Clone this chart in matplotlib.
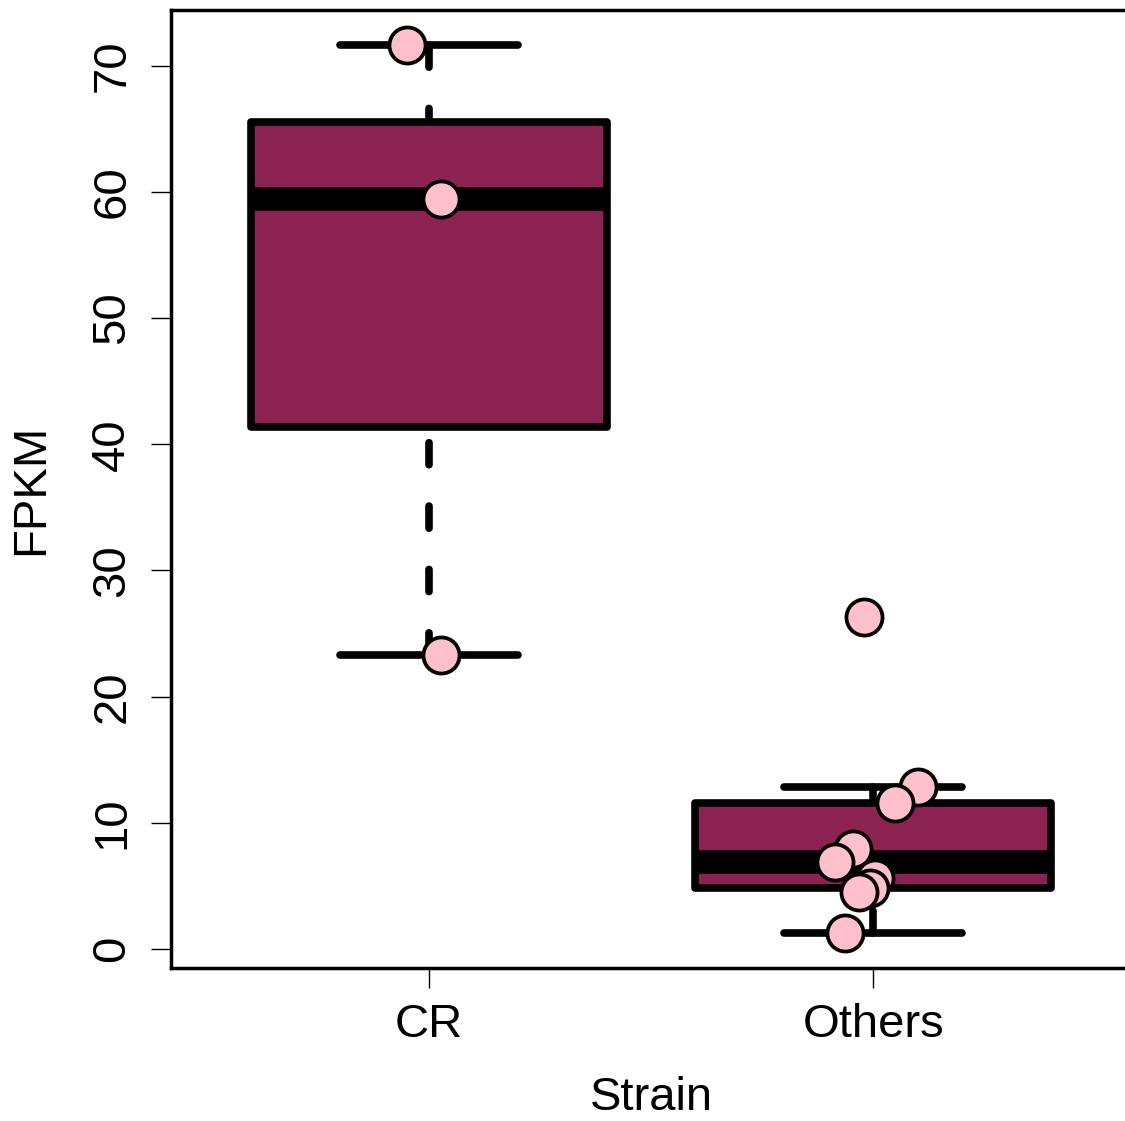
import matplotlib
matplotlib.use("Agg")
import matplotlib.pyplot as plt
import numpy as np

plt.rcParams["font.family"] = ["Liberation Sans", "DejaVu Sans"]

# data
groups = ["CR", "Others"]
cr_values = [71.6, 59.4, 23.3]
cr_jitter = [-0.05, 0.027, 0.027]
others_values = [26.3, 12.8, 11.6, 7.9, 6.9, 5.6, 4.85, 4.5, 1.3]
others_jitter = [-0.02, 0.10, 0.05, -0.045, -0.086, 0.005, -0.007, -0.032, -0.063]
yticks = [0, 10, 20, 30, 40, 50, 60, 70]

box_color = "#8B2252"
point_color = "#FFC0CB"

fig = plt.figure(figsize=(11.25, 11.21), dpi=100)
ax = fig.add_axes([171 / 1125, 153 / 1121, 960 / 1125, 958 / 1121])

data = [cr_values, others_values]
lw = 5.5
bp = ax.boxplot(data, positions=[1, 2], widths=0.8, patch_artist=True,
                showfliers=False, capwidths=0.4, whis=1.5,
                boxprops=dict(facecolor=box_color, edgecolor="black", linewidth=lw,
                              joinstyle="round"),
                medianprops=dict(color="black", linewidth=17, solid_capstyle="butt"),
                whiskerprops=dict(color="black", linewidth=lw,
                                  linestyle=(0, (2.9, 5.4)), dash_capstyle="round"),
                capprops=dict(color="black", linewidth=lw, solid_capstyle="round"))

# start the dash pattern at the cap end like R does
for w in bp["whiskers"]:
    xd, yd = w.get_data()
    w.set_data(xd[::-1], yd[::-1])

# jittered points
for i, (vals, jit) in enumerate([(cr_values, cr_jitter), (others_values, others_jitter)]):
    xs = np.array(jit) + i + 1
    ax.plot(xs, vals, "o", ms=26, mfc=point_color, mec="black", mew=2.7,
            linestyle="none", zorder=5)

allv = np.array(cr_values + others_values)
rng = allv.max() - allv.min()
ax.set_ylim(allv.min() - 0.04 * rng, allv.max() + 0.04 * rng)
ax.set_xlim(0.42, 2.58)

ax.set_yticks(yticks)
ax.set_yticklabels([str(t) for t in yticks], rotation=90, va="center")
ax.set_xticks([1, 2])
ax.set_xticklabels(groups)

for s in ax.spines.values():
    s.set_linewidth(2.5)

ax.tick_params(axis="both", labelsize=34, length=14.4, width=1.0, direction="out")
ax.tick_params(axis="y", pad=12)
ax.tick_params(axis="x", pad=11)

ax.set_ylabel("FPKM", fontsize=34, labelpad=27)
ax.set_xlabel("Strain", fontsize=34, labelpad=21)

fig.savefig("out.png", dpi=100)
